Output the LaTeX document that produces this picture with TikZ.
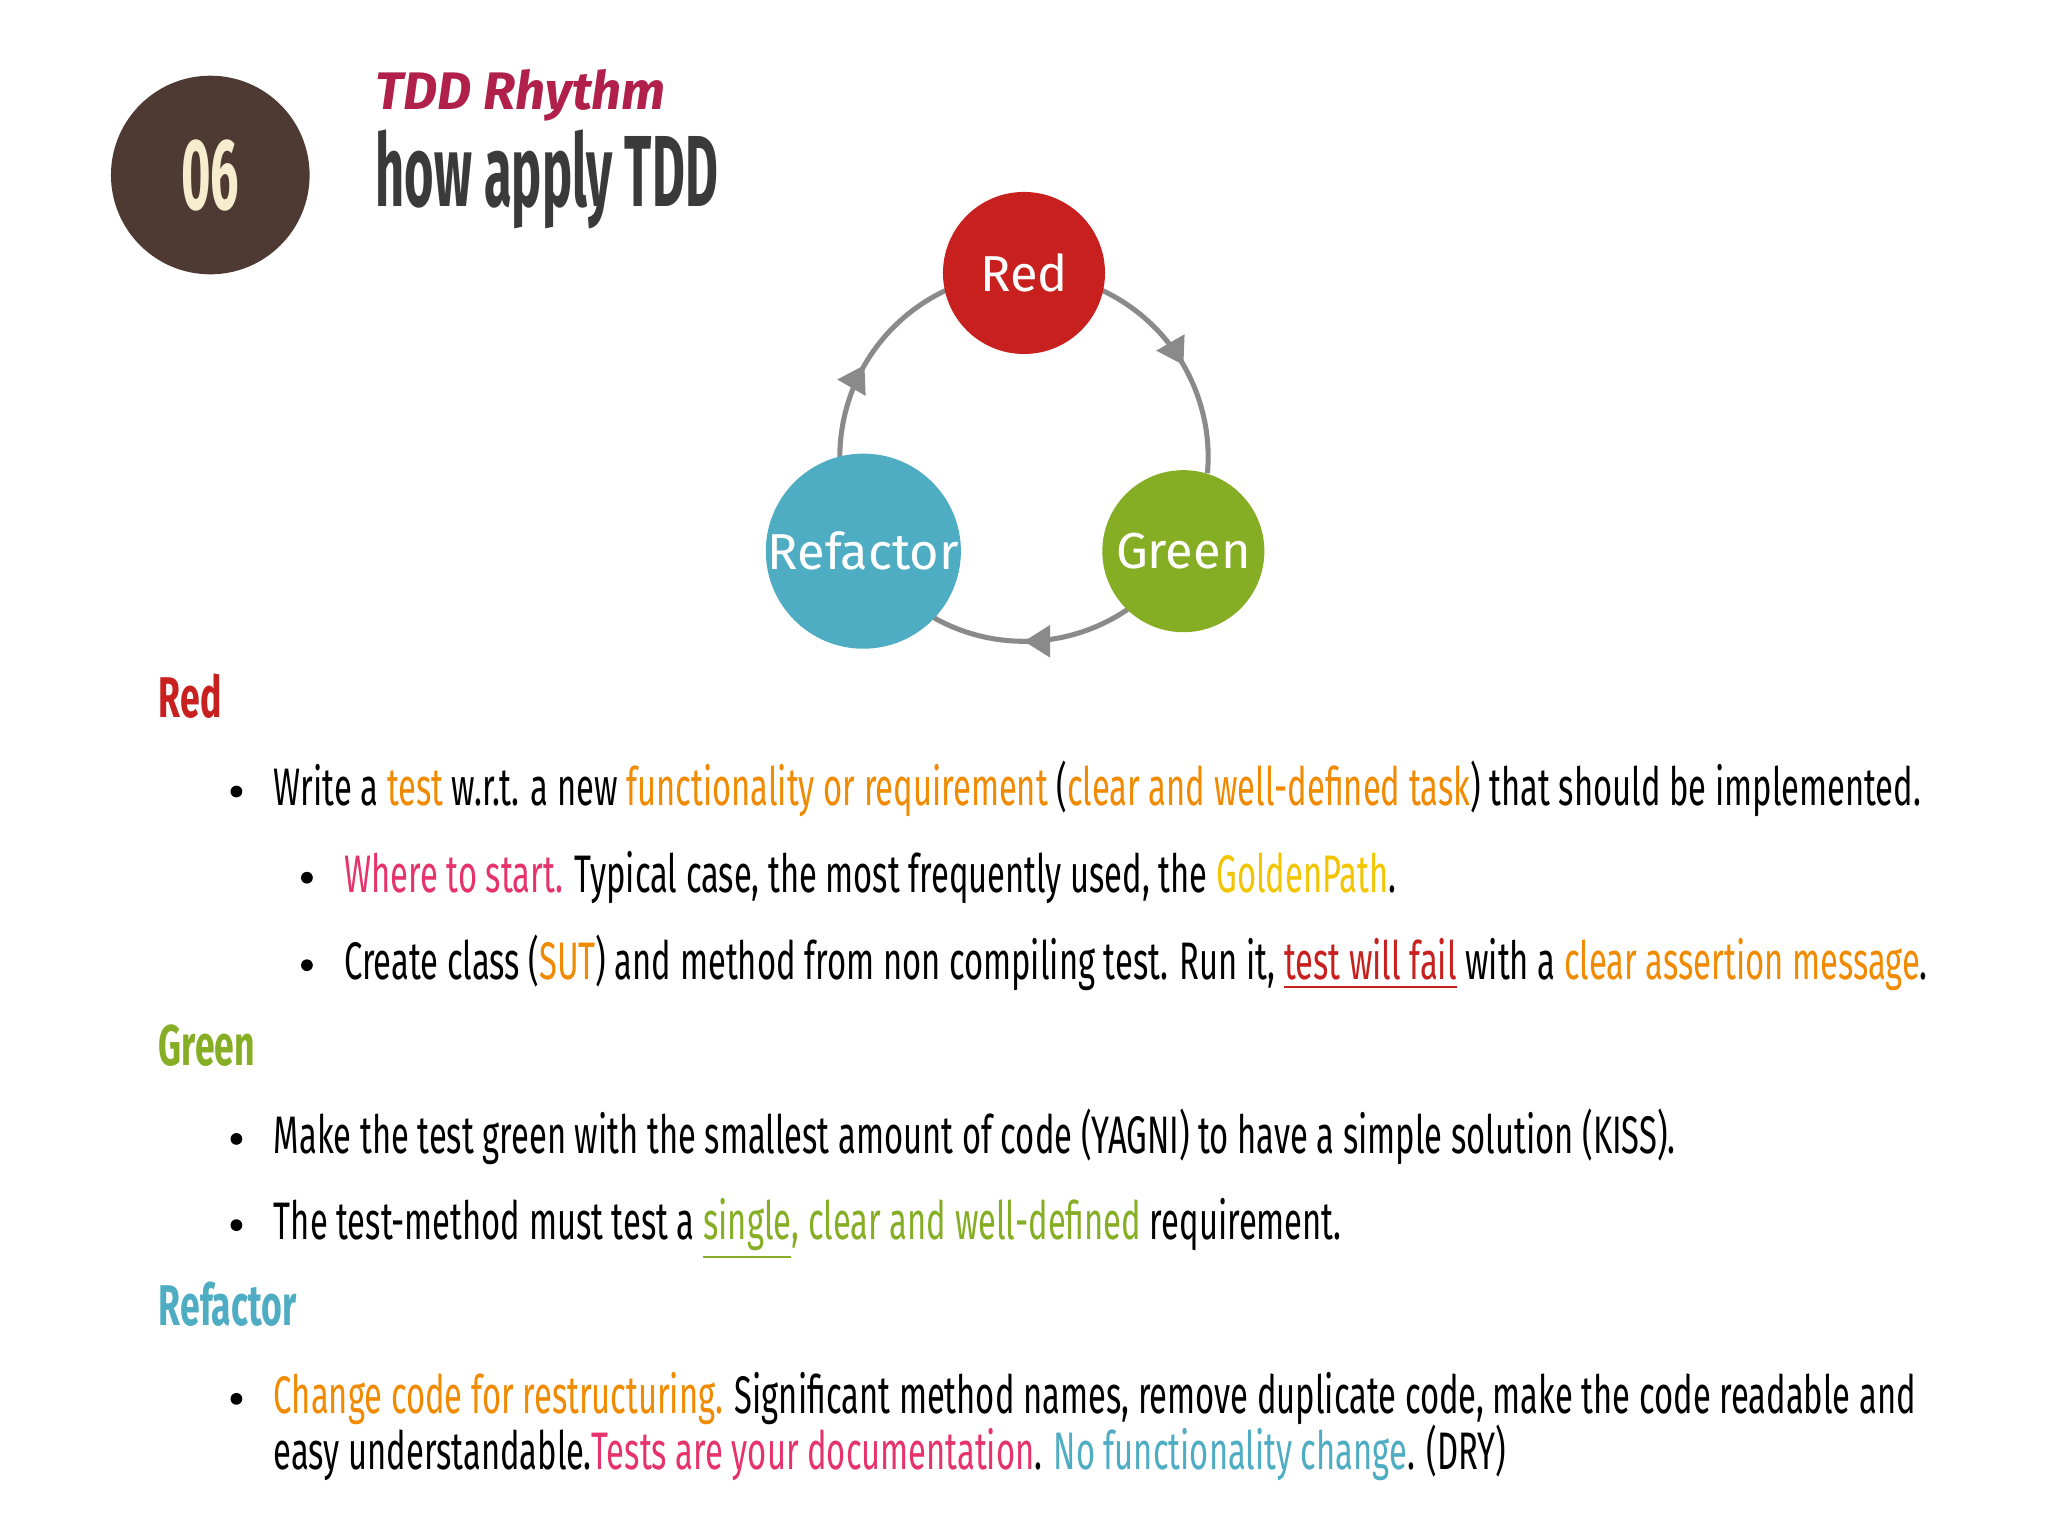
\documentclass[tikz,border=0pt]{standalone}
\usepackage{fontspec}
\setmainfont{Fira Sans}
\newfontfamily\cond[FakeStretch=0.62]{Fira Sans}
\newfontfamily\condt[FakeStretch=0.5]{Fira Sans}
\usetikzlibrary{decorations.markings,arrows.meta}
\definecolor{brn}{HTML}{4E3A33}
\definecolor{cream}{HTML}{F6EDCF}
\definecolor{crim}{HTML}{B0204A}
\definecolor{tgray}{HTML}{3A3A3A}
\definecolor{rd}{HTML}{C8201E}
\definecolor{gr}{HTML}{86AE24}
\definecolor{tl}{HTML}{4FADC3}
\definecolor{og}{HTML}{F08A00}
\definecolor{yl}{HTML}{F2C500}
\definecolor{pk}{HTML}{E6336B}
\definecolor{lg}{HTML}{8A8A8A}
\begin{document}
\begin{tikzpicture}[x=0.01cm,y=-0.01cm,
  ball/.style={circle,minimum size=1.24cm,inner sep=0pt,text=white,font=\fontsize{11}{13}\selectfont},
  txt/.style={anchor=base west,inner sep=0pt,font=\cond\fontsize{11.5}{14}\selectfont},
  head/.style={anchor=base west,inner sep=0pt,font=\cond\fontsize{12.5}{15}\selectfont\bfseries},
  bul/.style={circle,fill=black,inner sep=0pt,minimum size=0.09cm},
  cyc/.style={draw=lg,line width=1.1pt,postaction={decorate},decoration={markings,mark=at position 0.5 with {\arrow[lg]{Triangle[length=0.2cm,width=0.24cm]}}}}]
\useasboundingbox[fill=white] (0,0) rectangle (1568,1176);
\node[circle,fill=brn,minimum size=1.52cm,inner sep=0pt,text=cream,font=\condt\fontsize{22}{24}\selectfont\bfseries] (n06) at (161,134) {06};
\node[anchor=base west,inner sep=0pt,text=crim,font=\fontsize{11.5}{13}\selectfont\bfseries\itshape] (sub) at (287,84) {TDD Rhythm};
\node[anchor=base west,inner sep=0pt,text=tgray,font=\condt\fontsize{22}{26}\selectfont\bfseries] (ttl) at (287,158) {how apply TDD};
% cycle
\coordinate (cc) at (784,350);
\draw[cyc] (cc) ++(-65:141) arc[start angle=-65,end angle=5,radius=141];
\draw[cyc] (cc) ++(55:141) arc[start angle=55,end angle=125,radius=141];
\draw[cyc] (cc) ++(175:141) arc[start angle=175,end angle=245,radius=141];
\node[ball,fill=rd] (red) at (784,209) {Red};
\node[ball,fill=gr] (green) at (906,422) {Green};
\node[ball,fill=tl] (ref) at (661,422) {Refactor};
% text
\node[head,text=rd] (h1) at (121,549) {Red};
\node[bul] (b1) at (181,606) {};
\node[txt] (l1) at (209,617) {Write a \textcolor{og}{test} w.r.t. a new \textcolor{og}{functionality or requirement} (\textcolor{og}{clear and well-defined task}) that should be implemented.};
\node[bul] (b2) at (235,672) {};
\node[txt] (l2) at (263,683) {\textcolor{pk}{Where to start.} Typical case, the most frequently used, the \textcolor{yl}{GoldenPath}.};
\node[bul] (b3) at (235,739) {};
\node[txt] (l3) at (263,750) {Create class (\textcolor{og}{SUT}) and method from non compiling test. Run it, \textcolor{rd}{\underline{test will fail}} with a \textcolor{og}{clear assertion message}.};
\node[head,text=gr] (h2) at (121,816) {Green};
\node[bul] (b4) at (181,872) {};
\node[txt] (l4) at (209,883) {Make the test green with the smallest amount of code (YAGNI) to have a simple solution (KISS).};
\node[bul] (b5) at (181,938) {};
\node[txt] (l5) at (209,949) {The test-method must test a \textcolor{gr}{\underline{single}, clear and well-defined} requirement.};
\node[head,text=tl] (h3) at (121,1015) {Refactor};
\node[bul] (b6) at (181,1071) {};
\node[txt] (l6) at (209,1082) {\textcolor{og}{Change code for restructuring.} Significant method names, remove duplicate code, make the code readable and};
\node[txt] (l7) at (209,1125) {easy understandable.\textcolor{pk}{Tests are your documentation}. \textcolor{tl}{No functionality change}. (DRY)};
\end{tikzpicture}
\end{document}
